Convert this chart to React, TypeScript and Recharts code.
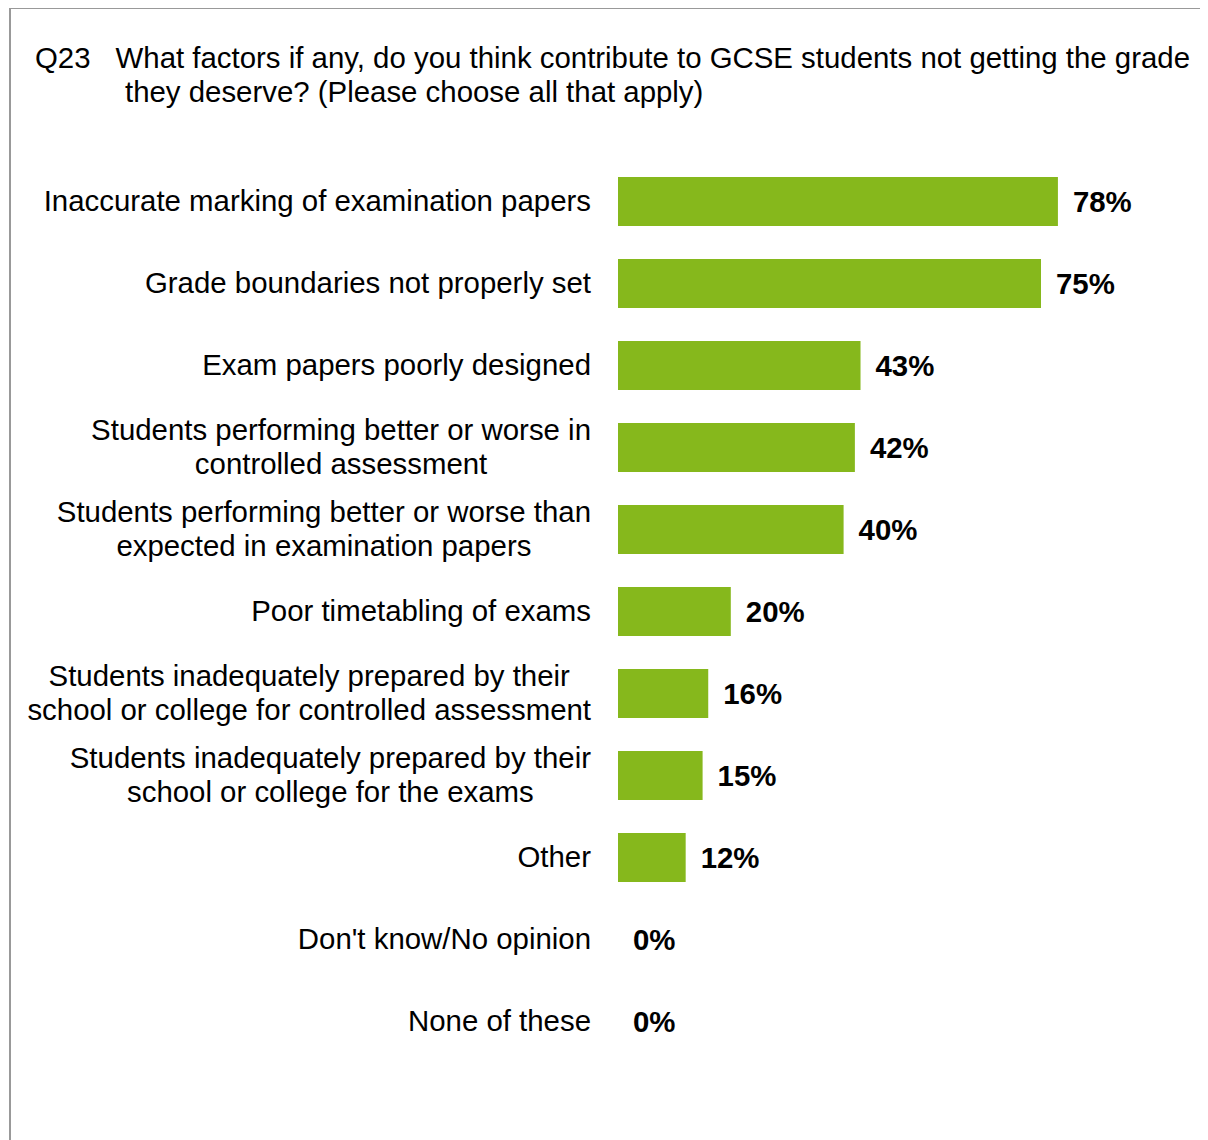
import { BarChart, Bar, XAxis, YAxis, LabelList } from "recharts";

const categories = [
    "Inaccurate marking of examination papers",
    "Grade boundaries not properly set",
    "Exam papers poorly designed",
    "Students performing better or worse in\ncontrolled assessment",
    "Students performing better or worse than\nexpected in examination papers",
    "Poor timetabling of exams",
    "Students inadequately prepared by their\nschool or college for controlled assessment",
    "Students inadequately prepared by their\nschool or college for the exams",
    "Other",
    "Don't know/No opinion",
    "None of these",
];

const percentages = [78, 75, 43, 42, 40, 20, 16, 15, 12, 0, 0];

const titleLine1 = "What factors if any, do you think contribute to GCSE students not getting the grade";
const titleLine2 = "they deserve? (Please choose all that apply)";

const data = categories.map((name, i) => ({ name, value: percentages[i] }));

const FONT = '"Liberation Sans", Arial, sans-serif';
const FS = 29.4;

let ctx: CanvasRenderingContext2D | null = null;
const measure = (s: string) => {
    if (!ctx) ctx = document.createElement("canvas").getContext("2d");
    if (!ctx) return s.length * 14;
    ctx.font = `${FS}px ${FONT}`;
    return ctx.measureText(s).width;
};

const CategoryTick = (props: any) => {
    const { x, y, payload } = props;
    const lines: string[] = String(payload.value).split("\n");
    const blockW = Math.max(...lines.map(measure));
    const cx = x - blockW / 2;
    const lineH = 34;
    const startY = y - ((lines.length - 1) * lineH) / 2;
    return (
        <text textAnchor="middle" fill="#000" fontSize={FS} fontFamily={FONT}>
            {lines.map((l, i) => (
                <tspan key={i} x={cx} y={startY + i * lineH} dy="0.35em">
                    {l}
                </tspan>
            ))}
        </text>
    );
};

const ValueLabel = (props: any) => {
    const { x, y, width, height, value } = props;
    return (
        <text
            x={Number(x) + Number(width) + 15}
            y={Number(y) + Number(height) / 2}
            dy="0.35em"
            fill="#000"
            fontSize={FS}
            fontWeight="bold"
            fontFamily={FONT}
        >
            {`${value}%`}
        </text>
    );
};

export default function App() {
    return (
        <div
            style={{
                position: "relative",
                width: 1208,
                height: 1140,
                marginTop: -8,
                marginLeft: -8,
                overflow: "hidden",
                background: "#fff",
                fontFamily: FONT,
            }}
        >
            <div
                style={{
                    position: "absolute",
                    left: 9,
                    top: 7,
                    width: 1300,
                    height: 1300,
                    border: "2px solid #999",
                }}
            />
            <div
                style={{
                    position: "absolute",
                    left: 35,
                    top: 41,
                    fontSize: FS,
                    lineHeight: "34px",
                    color: "#000",
                    whiteSpace: "nowrap",
                }}
            >
                <div>
                    <span>Q23</span>
                    <span style={{ marginLeft: 25 }}>{titleLine1}</span>
                </div>
                <div style={{ marginLeft: 90 }}>{titleLine2}</div>
            </div>
            <div style={{ position: "absolute", left: 0, top: 0 }}>
                <BarChart
                    width={1208}
                    height={1140}
                    data={data}
                    layout="vertical"
                    margin={{ top: 160, right: 26, bottom: 78, left: 0 }}
                >
                    <XAxis type="number" domain={[0, 100]} hide />
                    <YAxis
                        type="category"
                        dataKey="name"
                        width={618}
                        axisLine={false}
                        tickLine={false}
                        tickSize={0}
                        tickMargin={27}
                        tick={<CategoryTick />}
                        interval={0}
                    />
                    <Bar
                        dataKey="value"
                        fill="#86B81C"
                        barSize={49}
                        minPointSize={(v: number) => (v === 0 ? 0.001 : 0)}
                        isAnimationActive={false}
                    >
                        <LabelList dataKey="value" content={<ValueLabel />} />
                    </Bar>
                </BarChart>
            </div>
        </div>
    );
}
